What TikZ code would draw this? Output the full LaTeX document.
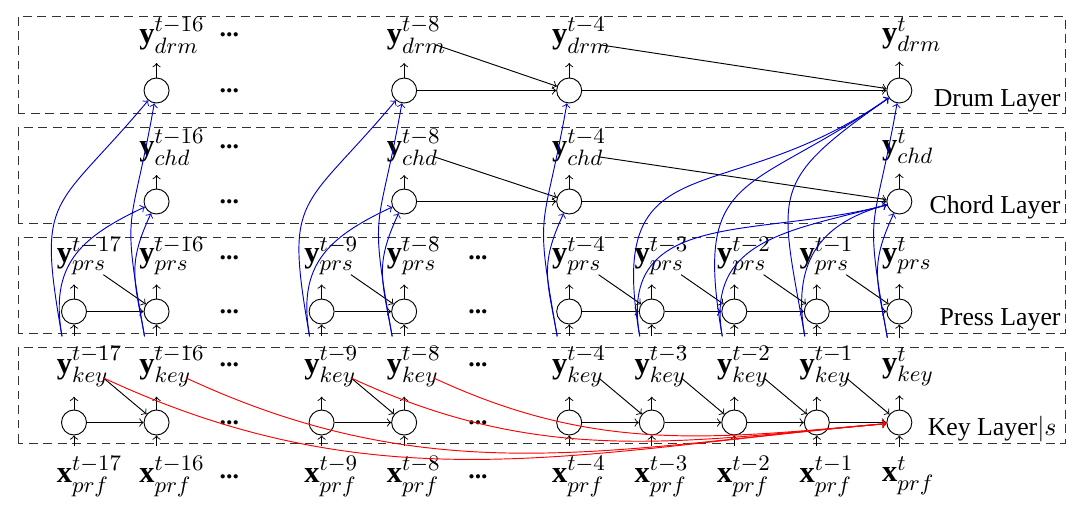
\RequirePackage{fix-cm}
\documentclass[tikz,border=0pt]{standalone}
\usepackage{fontspec}
\setmainfont{Liberation Serif}
\usepackage{amsmath}
\DeclareMathSizes{13}{13}{9.5}{7}
\usetikzlibrary{arrows,arrows.meta}

\begin{document}
\begin{tikzpicture}[ > = to, font=\fontsize{11}{13}\selectfont,
    cell/.style = {draw, circle, minimum size=3.75mm, inner sep=0pt},
    lbl/.style = {anchor=west, inner xsep=1pt, inner ysep=4pt, xshift=-3mm, font=\fontsize{13}{15}\selectfont},
    gapdots/.style = {inner sep=1pt},
    layername/.style = {anchor=base east, inner sep=0pt},
    layerbox/.style = {draw=black!80, dash pattern=on 3.8pt off 2.4pt},
    feedup/.style = {->, blue!80!black},
    longskip/.style = {->, red}]

    \useasboundingbox (0,0) rectangle (16.2,7.725);

    % layers
    \draw[layerbox] (0.27,6.03) rectangle (15.975,7.485);
    \draw[layerbox] (0.27,4.38) rectangle (15.975,5.82);
    \draw[layerbox] (0.27,2.73) rectangle (15.975,4.17);
    \draw[layerbox] (0.27,1.08) rectangle (15.975,2.52);
    \node[layername] (drumname) at (15.915,6.135) {Drum Layer};
    \node[layername] (chordname) at (15.915,4.53) {Chord Layer};
    \node[layername] (pressname) at (15.915,2.85) {Press Layer};
    \node[layername] (keyname) at (15.855,1.2) {Key Layer$|s$};

    % key and press layers
    \foreach \i/\s in {0/-17,1/-16,3/-9,4/-8,6/-4,7/-3,8/-2,9/-1,10/} {
        \node[cell] (k\i) at (1.11+1.238*\i,1.3875) {};
        \node[cell] (p\i) at (1.11+1.238*\i,3.0525) {};
        \node[lbl] (xl\i) at (1.11+1.238*\i,0.585) {$\mathbf{x}^{t\s}_{prf}$};
        \node[lbl] (kl\i) at (1.11+1.238*\i,2.2275) {$\mathbf{y}^{t\s}_{key}$};
        \node[lbl] (pl\i) at (1.11+1.238*\i,3.885) {$\mathbf{y}^{t\s}_{prs}$};
        \draw[->] (xl\i.north -| k\i) -- (k\i);
        \draw[->] (k\i) -- (k\i |- kl\i.south);
        \draw[->] (kl\i.north -| p\i) -- (p\i);
        \draw[->] (p\i) -- (p\i |- pl\i.south);
    }

    % chord and drum layers
    \foreach \i/\s in {1/-16,4/-8,6/-4,10/} {
        \node[cell] (c\i) at (1.11+1.238*\i,4.7025) {};
        \node[cell] (d\i) at (1.11+1.238*\i,6.3675) {};
        \node[lbl] (cl\i) at (1.11+1.238*\i,5.52) {$\mathbf{y}^{t\s}_{chd}$};
        \node[lbl] (dl\i) at (1.11+1.238*\i,7.2) {$\mathbf{y}^{t\s}_{drm}$};
        \draw[->] (c\i) -- (c\i |- cl\i.south);
        \draw[->] (d\i) -- (d\i |- dl\i.south);
    }

    % gaps
    \foreach \y [count=\n] in {7.2,6.3675,5.52,4.7025,3.855,3.0525,2.25,1.3875,0.57}
        \node[gapdots] (gapa\n) at (3.44,\y) {\textbf{...}};
    \foreach \y [count=\n] in {3.855,3.0525,2.25,1.3875,0.57}
        \node[gapdots] (gapb\n) at (7.17,\y) {\textbf{...}};

    % recurrent links
    \foreach \a/\b in {0/1,3/4,6/7,7/8,8/9,9/10} {
        \draw[->] (k\a) -- (k\b);
        \draw[->] (p\a) -- (p\b);
        \draw[->] ([shift={(0.74,-0.17)}]kl\a.west) -- (k\b);
        \draw[->] ([shift={(0.74,-0.28)}]pl\a.west) -- (p\b);
    }
    \foreach \a/\b in {4/6,6/10} {
        \draw[->] (c\a) -- (c\b);
        \draw[->] (d\a) -- (d\b);
        \draw[->] ([shift={(0.76,-0.15)}]cl\a.west) -- (c\b);
        \draw[->] ([shift={(0.78,-0.15)}]dl\a.west) -- (d\b);
    }

    % key outputs up to chord and drum
    \foreach \a/\b/\ic/\id in {0/1/205/230,1/1/245/260,3/4/205/230,4/4/245/260,6/6/245/260,7/10/195/215,8/10/195/215,9/10/195/215,10/10/245/260} {
        \draw[feedup] ([xshift=-1.8mm]kl\a.north -| p\a) to[out=100,in=\ic,looseness=1.2] (c\b);
        \draw[feedup] ([xshift=-1.8mm]kl\a.north -| p\a) to[out=100,in=\id,looseness=1.5] (d\b);
    }

    % long links to the last key cell
    \foreach \a in {0,1,3,4}
        \draw[longskip] ([shift={(0.74,-0.17)}]kl\a.west) to[out=-25,in=185] (k10);

\end{tikzpicture}
\end{document}
